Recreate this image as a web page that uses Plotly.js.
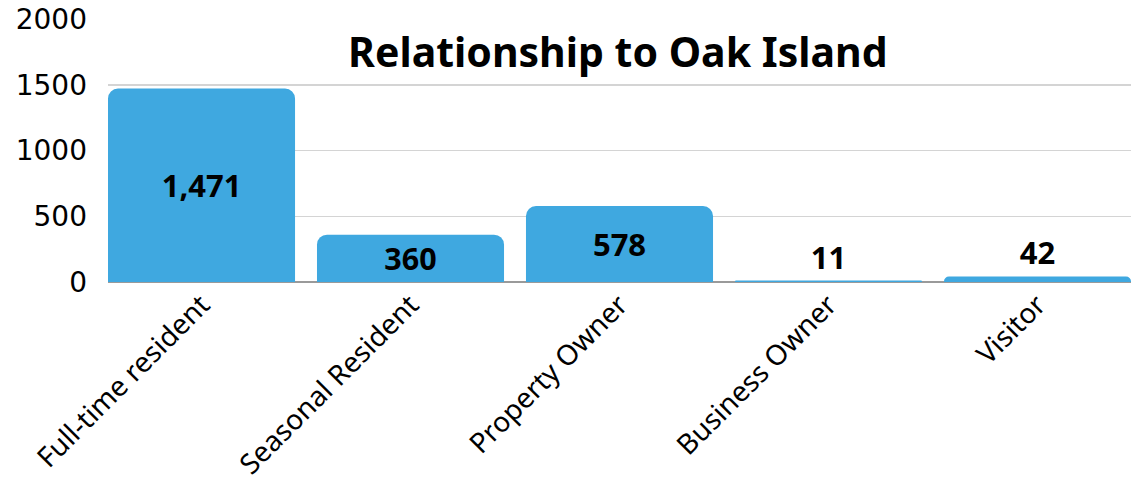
<!DOCTYPE html>
<html>
<head>
<meta charset="utf-8">
<script src="https://cdn.plot.ly/plotly-3.0.1.min.js"></script>
<style>html,body{margin:0;padding:0;background:#fff;}#chart{width:1141px;height:486px;}</style>
</head>
<body>
<div id="chart"></div>
<script>
const categories = ["Full-time resident", "Seasonal Resident", "Property Owner", "Business Owner", "Visitor"];
const counts = [1471, 360, 578, 11, 42];
const yTickValues = [0, 500, 1000, 1500, 2000];
const yTickLabels = ["0", "500", "1000", "1500", "2000"];
const chartTitle = "Relationship to Oak Island";

const labelFont = { family: "Noto Sans", size: 31, color: "#000", weight: "bold" };

const trace = {
  type: "bar",
  x: categories,
  y: counts,
  marker: { color: "#3FA8E0", cornerradius: 10 },
  text: counts.map(v => v.toLocaleString("en-US")),
  textposition: counts.map(v => (v >= 200 ? "inside" : "outside")),
  insidetextanchor: "middle",
  constraintext: "none",
  textfont: labelFont,
  insidetextfont: labelFont,
  outsidetextfont: labelFont,
  cliponaxis: false,
  hoverinfo: "skip"
};

const layout = {
  width: 1141, height: 486,
  margin: { l: 108, r: 10, t: 19, b: 204 },
  paper_bgcolor: "#fff", plot_bgcolor: "#fff",
  bargap: 0.105,
  showlegend: false,
  title: {
    text: "<b>" + chartTitle + "</b>",
    font: { family: "Noto Sans", size: 41, color: "#000" },
    x: 0.5415, xanchor: "center", y: 0.891, yanchor: "middle"
  },
  xaxis: {
    range: [-0.4475, 4.4475],
    tickangle: -45,
    tickfont: { family: "Noto Sans", size: 28, color: "#000" },
    showgrid: false, showline: false, ticks: "",
    fixedrange: true
  },
  yaxis: {
    range: [0, 2000],
    tickvals: yTickValues, ticktext: yTickLabels,
    tickfont: { family: "DejaVu Sans", size: 28, color: "#000" },
    gridcolor: "#d4d4d4", gridwidth: 1.5,
    zeroline: true, zerolinecolor: "#9a9a9a", zerolinewidth: 1.5,
    showline: false, ticks: "", ticklabelstandoff: 20,
    fixedrange: true
  }
};

Plotly.newPlot("chart", [trace], layout, { displayModeBar: false, staticPlot: true });
</script>
</body>
</html>
